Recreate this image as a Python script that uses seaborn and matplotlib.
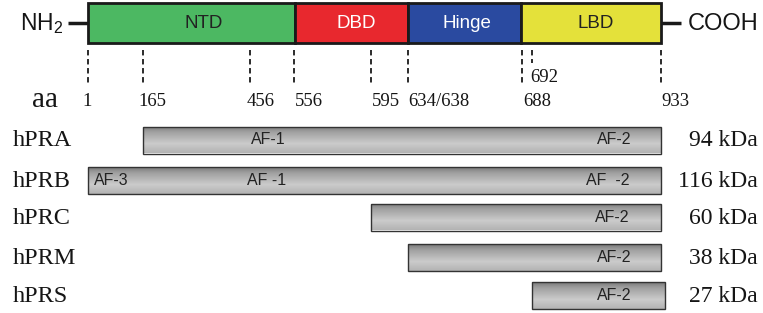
import numpy as np
import pandas as pd
import matplotlib
matplotlib.use("Agg")
import matplotlib.pyplot as plt
import seaborn as sns
from matplotlib.colors import LinearSegmentedColormap

sns.set_theme(style="white")
plt.rcParams['font.family'] = ['Liberation Sans', 'DejaVu Sans']
plt.rcParams['mathtext.default'] = 'regular'
SERIF = ['Liberation Serif', 'DejaVu Serif']
TXT = "#151515"

# ---- data (schematic x coordinates of the receptor map) ----
domains = ["NTD", "DBD", "Hinge", "LBD"]
domain_start = [88, 295, 408, 521]
domain_end = [295, 408, 521, 661]
domain_colors = ["#4cb862", "#e8282e", "#2a4aa0", "#e4e13a"]
domain_text_colors = ["#222222", "white", "white", "#222222"]

aa_labels = ["1", "165", "456", "556", "595", "634/638", "688", "933"]
aa_pos = [88, 143, 250, 294, 371, 408, 522, 661]
minor_label = "692"
minor_pos = 532

isoforms = ["hPRA", "hPRB", "hPRC", "hPRM", "hPRS"]
iso_start = [143, 88, 371, 408, 532]
iso_end = [661, 661, 661, 661, 665]
iso_kda = ["94 kDa", "116 kDa", "60 kDa", "38 kDa", "27 kDa"]
af_labels = [["AF-1", "AF-2"], ["AF-3", "AF -1", "AF  -2"], ["AF-2"], ["AF-2"], ["AF-2"]]
af_pos = [[268, 614], [111, 267, 608], [612], [614], [614]]

# ---- layout ----
row_y = [140, 180.5, 217, 257.5, 295.5]
bar_h = 27

fig = plt.figure(figsize=(7.63, 3.13), dpi=100)
ax = fig.add_axes([0, 0, 1, 1])

# isoform bars via seaborn
df = pd.DataFrame({
    "isoform": isoforms,
    "length": np.array(iso_end) - np.array(iso_start),
    "row": row_y,
})
min_gap = np.min(np.diff(sorted(row_y)))
sns.barplot(data=df, x="length", y="row", orient="y", native_scale=True,
            width=bar_h / min_gap, color="#b0b0b0", edgecolor="#333333",
            linewidth=1.0, errorbar=None, ax=ax)

cmap = LinearSegmentedColormap.from_list(
    "bargrad", [(0, "#7a7a7a"), (0.2, "#9f9f9f"), (0.65, "#cbcbcb"), (1, "#b3b3b3")])
grad = np.linspace(0, 1, 64).reshape(-1, 1)
iso_patches = list(ax.patches)
for p in iso_patches:
    yc = p.get_y() + p.get_height() / 2
    i = int(np.argmin(np.abs(np.array(row_y) - yc)))
    p.set_x(iso_start[i])
    p.set_facecolor("none")
    p.set_zorder(3)
    x0, w = p.get_x(), p.get_width()
    y0, h = p.get_y(), p.get_height()
    im = ax.imshow(grad, cmap=cmap, vmin=0, vmax=1, aspect="auto",
                   extent=(x0, x0 + w, y0 + h, y0), origin="upper", zorder=2,
                   interpolation="bilinear")
    im.set_clip_path(p)

# domain bar
ax.barh(y=23, width=np.array(domain_end) - np.array(domain_start), left=domain_start,
        height=40, color=domain_colors, edgecolor="#1a1a1a", linewidth=2, zorder=3)
domain_label_x = [204, 356, 467, 596]
for name, xl, tc in zip(domains, domain_label_x, domain_text_colors):
    ax.text(xl, 23, name, ha="center", va="center", fontsize=13.5, color=tc, zorder=4)

ax.plot([68, 88], [23, 23], color="#1a1a1a", lw=2.5, zorder=2, solid_capstyle="butt")
ax.plot([661, 681], [23, 23], color="#1a1a1a", lw=2.5, zorder=2, solid_capstyle="butt")
ax.text(63, 24, r"NH$_2$", ha="right", va="center", fontsize=16.5, color=TXT)
ax.text(688, 24, "COOH", ha="left", va="center", fontsize=17, color=TXT)

# dashed markers
ax.vlines(aa_pos, 50, 83, colors="#1a1a1a", linestyles=(0, (3, 2)), lw=1.3)
ax.vlines([minor_pos], 50, 63, colors="#1a1a1a", linestyles=(0, (3, 2)), lw=1.3)

aa_label_x = [82, 138, 247, 295, 372, 408, 523, 661]
for lab, xl in zip(aa_labels, aa_label_x):
    ax.text(xl, 102, lab, ha="left", va="center", fontsize=13.5, family=SERIF, color=TXT)
ax.text(530, 77, minor_label, ha="left", va="center", fontsize=13.5, family=SERIF, color=TXT)
ax.text(32, 100, "aa", ha="left", va="center", fontsize=21, family=SERIF, color=TXT)

for name, kda, yc, labs, poss in zip(isoforms, iso_kda, row_y, af_labels, af_pos):
    ax.text(13, yc + 1, name, ha="left", va="center", fontsize=17.5, family=SERIF, color=TXT)
    ax.text(758, yc + 1, kda, ha="right", va="center", fontsize=17, family=SERIF, color=TXT)
    for l, xp in zip(labs, poss):
        ax.text(xp, yc, l, ha="center", va="center", fontsize=11.5, color="#222222", zorder=5)

ax.set_xlim(0, 763)
ax.set_ylim(313, 0)
ax.axis("off")
fig.savefig("out.png", dpi=100)
